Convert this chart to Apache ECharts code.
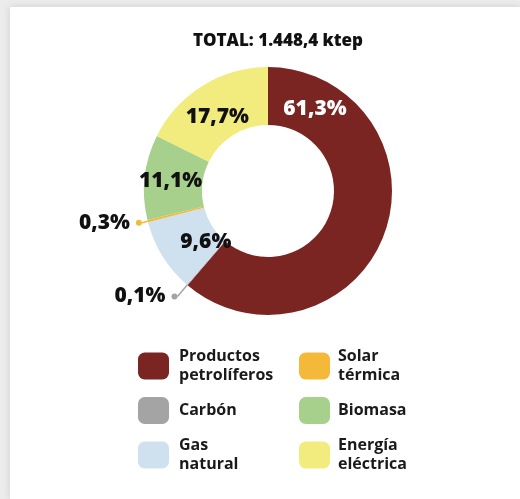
<!DOCTYPE html>
<html>
<head>
<meta charset="utf-8">
<script src="https://cdn.jsdelivr.net/npm/echarts@6/dist/echarts.min.js"></script>
<style>
  html, body { margin: 0; padding: 0; width: 520px; height: 499px; background: #ececec; overflow: hidden; }
  #card { position: absolute; left: 10px; top: 7px; right: 0; bottom: 0; background: #fff;
          box-shadow: 0 0 7px rgba(0,0,0,0.13); }
  #chart { position: absolute; left: 0; top: 0; width: 520px; height: 499px; }
</style>
</head>
<body>
<div id="card"></div>
<div id="chart"></div>
<script>
// Final energy consumption by source (share of total, %)
const categories = ['Productos petrolíferos', 'Carbón', 'Gas natural', 'Solar térmica', 'Biomasa', 'Energía eléctrica'];
const legendLabels = ['Productos\npetrolíferos', 'Carbón', 'Gas\nnatural', 'Solar\ntérmica', 'Biomasa', 'Energía\neléctrica'];
const shares = [61.3, 0.1, 9.6, 0.3, 11.1, 17.7];
const colors = ['#7b2522', '#a4a4a4', '#cfe0ef', '#f5b93a', '#a8d08d', '#f2ec7e'];
const titleText = 'TOTAL: 1.448,4 ktep';

const FONT = '"Open Sans", "Noto Sans", sans-serif';
const fmt = v => v.toFixed(1).replace('.', ',') + '%';

// per-slice label styling
const labelStyle = [
  { position: 'inside', color: '#fff', offset: [-45, -116] },
  { position: 'outside', outside: true, lineLen: 15 },
  { position: 'inside', color: '#111', offset: [21, -1] },
  { position: 'outside', outside: true, lineLen: 6 },
  { position: 'inside', color: '#111', offset: [0, 1] },
  { position: 'inside', color: '#111', offset: [1, 9] }
];

const data = categories.map((name, i) => {
  const s = labelStyle[i];
  const item = { name, value: shares[i], itemStyle: { color: colors[i] } };
  if (s.outside) {
    item.label = {
      show: true, position: 'outside', distanceToLabelLine: 0,
      formatter: '{v|' + fmt(shares[i]) + '}{g|}{d|}',
      rich: {
        v: { fontFamily: FONT, fontSize: 21, fontWeight: 800, color: '#111' },
        g: { width: 6 },
        d: { width: 6, height: 6, borderRadius: 3, backgroundColor: colors[i] }
      }
    };
    item.labelLine = { show: true, length: s.lineLen, length2: 0, smooth: false,
                       lineStyle: { color: colors[i], width: 1.5 } };
  } else {
    item.label = { show: true, position: 'inside', color: s.color, offset: s.offset,
                   formatter: fmt(shares[i]) };
    item.labelLine = { show: false };
  }
  return item;
});

const legendText = {
  fontFamily: FONT, fontSize: 16, fontWeight: 'bold', color: '#1a1a1a', lineHeight: 19
};
const nameToLabel = {};
categories.forEach((c, i) => nameToLabel[c] = legendLabels[i]);

const chart = echarts.init(document.getElementById('chart'), null, { renderer: 'canvas' });
chart.setOption({
  backgroundColor: 'transparent',
  animation: false,
  title: {
    text: titleText, left: 273, top: 28, textAlign: 'center',
    textStyle: { fontFamily: FONT, fontSize: 17, fontWeight: 800, color: '#111' }
  },
  legend: [
    {
      data: categories.slice(0, 3), orient: 'vertical', left: 138, top: 347, padding: 0,
      itemWidth: 31, itemHeight: 27, itemGap: 12, icon: 'roundRect', selectedMode: false,
      formatter: n => nameToLabel[n],
      textStyle: Object.assign({ padding: [0, 0, 0, 5] }, legendText)
    },
    {
      data: categories.slice(3), orient: 'vertical', left: 299, top: 347, padding: 0,
      itemWidth: 31, itemHeight: 27, itemGap: 12, icon: 'roundRect', selectedMode: false,
      formatter: n => nameToLabel[n],
      textStyle: Object.assign({ padding: [0, 0, 0, 3] }, legendText)
    }
  ],
  series: [{
    type: 'pie',
    center: [268, 191],
    radius: [66, 124],
    startAngle: 90,
    clockwise: true,
    avoidLabelOverlap: false,
    silent: true,
    itemStyle: { borderWidth: 0 },
    label: { fontFamily: FONT, fontSize: 21, fontWeight: 800 },
    data
  }]
});
</script>
</body>
</html>
